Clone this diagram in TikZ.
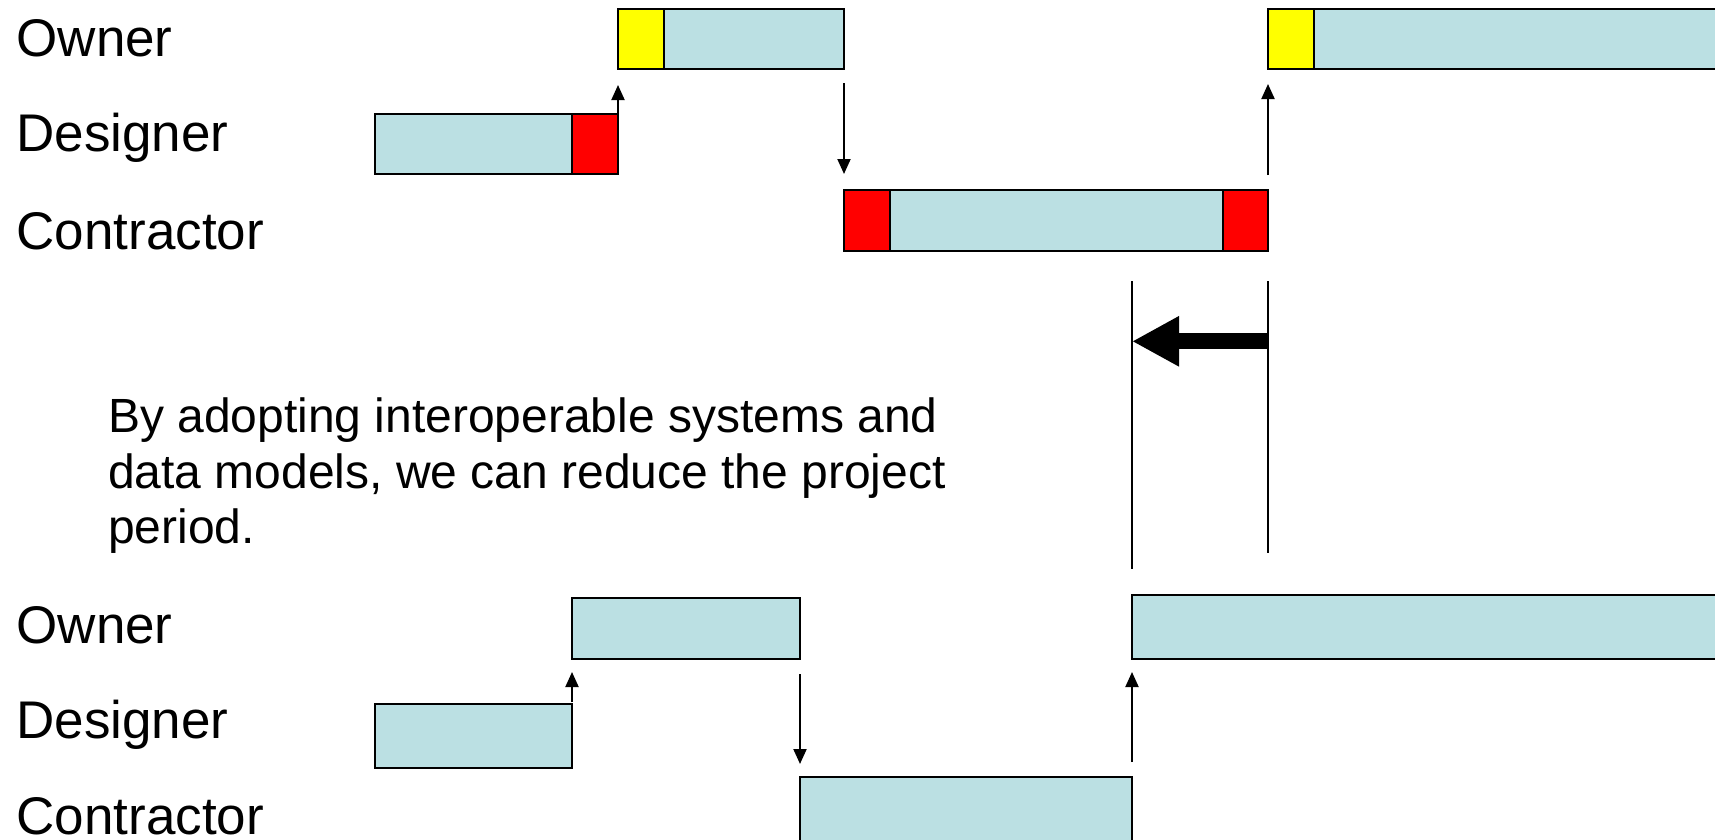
\documentclass[tikz,border=0pt]{standalone}
\usepackage{fontspec}
\setmainfont{Liberation Sans}
\usetikzlibrary{arrows.meta}
\definecolor{lb}{HTML}{BBE0E3}
\definecolor{yl}{HTML}{FFFF00}
\definecolor{rd}{HTML}{FF0000}
\tikzset{
  seg/.style={draw, line width=2pt, inner sep=0pt, outer sep=0pt, anchor=north west},
  conn/.style={line width=2pt, -{Triangle[length=15pt,width=13pt]}},
  bigarrow/.style={line width=16pt, -{Triangle[length=47pt,width=47pt]}},
  guide/.style={line width=2pt},
  lbl/.style={anchor=base west, inner sep=0pt, outer sep=0pt, font=\fontsize{53}{58}\selectfont},
  para/.style={anchor=north west, align=left, inner sep=0pt, outer sep=0pt, font=\fontsize{48}{55.5}\selectfont},
}
\begin{document}
\begin{tikzpicture}[x=1pt,y=-1pt]
\useasboundingbox (0,0) rectangle (1715,839);
\clip (0,0) rectangle (1715,839);

% labels
\node[lbl] (own1) at (16.5,56) {Owner};
\node[lbl] (des1) at (16.5,151.7) {Designer};
\node[lbl] (con1) at (16.5,249) {Contractor};
\node[lbl] (own2) at (16.5,643) {Owner};
\node[lbl] (des2) at (16.5,738) {Designer};
\node[lbl] (con2) at (16.5,834) {Contractor};

% top schedule
\node[seg, fill=yl, minimum width=46pt, minimum height=60pt] (o1y) at (618,9) {};
\node[seg, fill=lb, minimum width=180pt, minimum height=60pt] (o1b) at (664,9) {};
\node[seg, fill=lb, minimum width=197pt, minimum height=60pt] (d1b) at (375,114) {};
\node[seg, fill=rd, minimum width=46pt, minimum height=60pt] (d1r) at (572,114) {};
\node[seg, fill=rd, minimum width=46pt, minimum height=61pt] (c1r) at (844,190) {};
\node[seg, fill=lb, minimum width=333pt, minimum height=61pt] (c1b) at (890,190) {};
\node[seg, fill=rd, minimum width=45pt, minimum height=61pt] (c1s) at (1223,190) {};
\node[seg, fill=yl, minimum width=46pt, minimum height=60pt] (o2y) at (1268,9) {};
\node[seg, fill=lb, minimum width=440pt, minimum height=60pt] (o2b) at (1314,9) {};

\draw[conn] (d1r.north east) -- (o1y.south west) [shorten >=16pt];
\draw[conn, shorten <=14pt, shorten >=16pt] (o1b.south east) -- (c1r.north west);
\draw[conn, shorten <=15pt, shorten >=15pt] (c1s.north east) -- (o2y.south west);

% middle
\coordinate (vlt) at (1132,281);
\coordinate (vlb) at (1132,569);
\coordinate (vrt) at (1268,281);
\coordinate (vrb) at (1268,553);
\draw[guide] (vlt) -- (vlb);
\draw[guide] (vrt) -- (vrb);
\coordinate (bas) at (1268,341.3);
\coordinate (bae) at (1132,341.3);
\draw[bigarrow] (bas) -- (bae);

\node[para] (txt) at (108,398)
  {By adopting interoperable systems and\\data models, we can reduce the project\\period.};

% bottom schedule
\node[seg, fill=lb, minimum width=228pt, minimum height=61pt] (o3) at (572,598) {};
\node[seg, fill=lb, minimum width=620pt, minimum height=64pt] (o4) at (1132,595) {};
\node[seg, fill=lb, minimum width=197pt, minimum height=64pt] (d3) at (375,704) {};
\node[seg, fill=lb, minimum width=332pt, minimum height=90pt] (c3) at (800,777) {};

\draw[conn, shorten <=2pt, shorten >=13pt] (d3.north east) -- (o3.south west);
\draw[conn, shorten <=15pt, shorten >=13pt] (o3.south east) -- (c3.north west);
\draw[conn, shorten <=15pt, shorten >=13pt] (c3.north east) -- (o4.south west);
\end{tikzpicture}
\end{document}
